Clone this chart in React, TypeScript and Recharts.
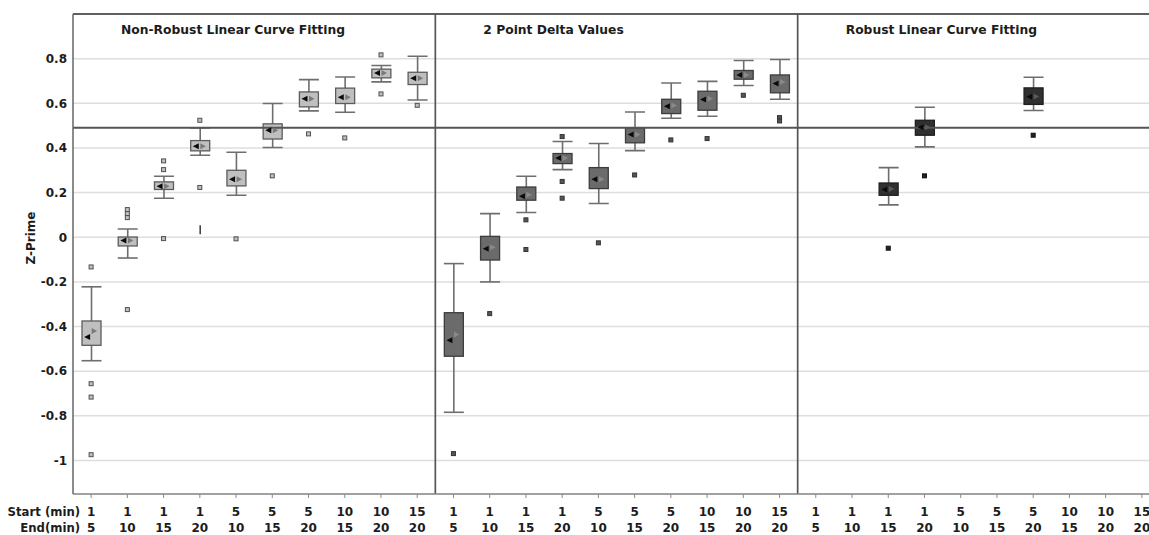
import React from 'react';
import {
  ComposedChart,
  Bar,
  Scatter,
  XAxis,
  YAxis,
  CartesianGrid,
  ReferenceLine,
  ReferenceArea,
} from 'recharts';

// ---------- data ----------
const startTimes = [1, 1, 1, 1, 5, 5, 5, 10, 10, 15];
const endTimes = [5, 10, 15, 20, 10, 15, 20, 15, 20, 20];
const panelTitles = ['Non-Robust Linear Curve Fitting', '2 Point Delta Values', 'Robust Linear Curve Fitting'];
const yTicks = [-1, -0.8, -0.6, -0.4, -0.2, 0, 0.2, 0.4, 0.6, 0.8];
const threshold = 0.49;

// Non-robust linear curve fitting
const nonRobustLow = [-0.553, -0.093, 0.175, 0.367, 0.188, 0.402, 0.566, 0.56, 0.696, 0.615];
const nonRobustQ1 = [-0.484, -0.039, 0.214, 0.387, 0.23, 0.44, 0.584, 0.599, 0.714, 0.684];
const nonRobustQ3 = [-0.375, 0.001, 0.248, 0.433, 0.3, 0.508, 0.651, 0.668, 0.753, 0.739];
const nonRobustHigh = [-0.222, 0.037, 0.273, 0.49, 0.381, 0.599, 0.706, 0.718, 0.769, 0.811];
const nonRobustMean = [-0.447, -0.015, 0.228, 0.408, 0.26, 0.479, 0.62, 0.627, 0.736, 0.712];
const nonRobustMedian = [-0.42, -0.015, 0.228, 0.408, 0.26, 0.479, 0.62, 0.627, 0.736, 0.712];
const nonRobustOutliers = [
  [-0.133, -0.656, -0.716, -0.974],
  [0.124, 0.106, 0.088, -0.324],
  [0.342, 0.303, -0.006],
  [0.524, 0.223],
  [-0.007],
  [0.275],
  [0.463],
  [0.445],
  [0.817, 0.642],
  [0.591],
];
// dense cluster of outliers drawn as a short vertical stroke
const nonRobustClusterLow = [null, null, null, 0.013, null, null, null, null, null, null];
const nonRobustClusterHigh = [null, null, null, 0.054, null, null, null, null, null, null];

// 2 point delta values
const deltaLow = [-0.784, -0.2, 0.111, 0.303, 0.151, 0.388, 0.533, 0.542, 0.68, 0.618];
const deltaQ1 = [-0.533, -0.102, 0.166, 0.33, 0.218, 0.423, 0.554, 0.569, 0.708, 0.647];
const deltaQ3 = [-0.338, 0.004, 0.225, 0.375, 0.312, 0.49, 0.618, 0.654, 0.747, 0.727];
const deltaHigh = [-0.118, 0.106, 0.273, 0.429, 0.42, 0.561, 0.691, 0.698, 0.792, 0.796];
const deltaMean = [-0.461, -0.051, 0.184, 0.355, 0.26, 0.46, 0.587, 0.617, 0.727, 0.689];
const deltaMedian = [-0.436, -0.045, 0.19, 0.355, 0.26, 0.46, 0.59, 0.62, 0.727, 0.695];
const deltaOutliers = [
  [-0.969],
  [-0.342],
  [0.078, -0.055],
  [0.451, 0.25, 0.175],
  [-0.025],
  [0.279],
  [0.436],
  [0.442],
  [0.636],
  [0.536, 0.521],
];

// Robust linear curve fitting
const robustLow = [null, null, 0.145, 0.405, null, null, 0.568, null, null, null];
const robustQ1 = [null, null, 0.188, 0.457, null, null, 0.595, null, null, null];
const robustQ3 = [null, null, 0.243, 0.524, null, null, 0.669, null, null, null];
const robustHigh = [null, null, 0.312, 0.582, null, null, 0.717, null, null, null];
const robustMean = [null, null, 0.214, 0.493, null, null, 0.629, null, null, null];
const robustMedian = [null, null, 0.216, 0.493, null, null, 0.63, null, null, null];
const robustOutliers = [[], [], [-0.049], [0.275], [], [], [0.457], [], [], []];

type N = number | null;
interface PanelData {
  low: N[];
  q1: N[];
  q3: N[];
  high: N[];
  mean: N[];
  median: N[];
  outliers: number[][];
  clusterLow?: N[];
  clusterHigh?: N[];
}

const panels: PanelData[] = [
  {
    low: nonRobustLow, q1: nonRobustQ1, q3: nonRobustQ3, high: nonRobustHigh,
    mean: nonRobustMean, median: nonRobustMedian, outliers: nonRobustOutliers,
    clusterLow: nonRobustClusterLow, clusterHigh: nonRobustClusterHigh,
  },
  { low: deltaLow, q1: deltaQ1, q3: deltaQ3, high: deltaHigh, mean: deltaMean, median: deltaMedian, outliers: deltaOutliers },
  { low: robustLow, q1: robustQ1, q3: robustQ3, high: robustHigh, mean: robustMean, median: robustMedian, outliers: robustOutliers },
];

// ---------- styles ----------
const FONT = '"DejaVu Sans", sans-serif';
const TEXT = '#1c1c1c';
const panelStyle = [
  { boxFill: '#bfbfbf', boxStroke: '#5c5c5c', whisker: '#6e6e6e', outFill: '#c0c0c0', outStroke: '#505050', median: '#7a7a7a' },
  { boxFill: '#6b6b6b', boxStroke: '#3c3c3c', whisker: '#6e6e6e', outFill: '#555555', outStroke: '#333333', median: '#8a8a8a' },
  { boxFill: '#303030', boxStroke: '#1e1e1e', whisker: '#6e6e6e', outFill: '#222222', outStroke: '#111111', median: '#5a5a5a' },
];

// ---------- derived tables ----------
const rows: any[] = [];
const meanPts: any[] = [];
const medianPts: any[] = [];
const outlierPts: any[] = [];
panels.forEach((p, pi) => {
  startTimes.forEach((s, i) => {
    const pos = pi * 10 + i + 0.5;
    const lo = p.low[i];
    const hi = p.high[i];
    const q1 = p.q1[i];
    const q3 = p.q3[i];
    const cl = p.clusterLow ? p.clusterLow[i] : null;
    const ch = p.clusterHigh ? p.clusterHigh[i] : null;
    rows.push({
      key: `${pi}-${i}`,
      panel: pi,
      idx: i,
      whisker: lo != null && hi != null ? [lo, hi] : null,
      box: q1 != null && q3 != null ? [q1, q3] : null,
      cluster: cl != null && ch != null ? [cl, ch] : null,
    });
    if (p.mean[i] != null) meanPts.push({ x: pos, v: p.mean[i], panel: pi });
    if (p.median[i] != null) medianPts.push({ x: pos, v: p.median[i], panel: pi });
    p.outliers[i].forEach((v) => outlierPts.push({ x: pos, v, panel: pi }));
  });
});

// ---------- shapes ----------
const norm = (y: number, h: number) => [Math.min(y, y + h), Math.max(y, y + h)];

const WhiskerShape = (props: any) => {
  const { x, y, width, height, payload } = props;
  if (!payload || !payload.whisker || !isFinite(y) || !isFinite(height)) return <g />;
  const [top, bot] = norm(y, height);
  const cx = x + width / 2;
  const c = panelStyle[payload.panel];
  return (
    <g stroke={c.whisker} strokeWidth={1.6} fill="none">
      <line x1={cx} x2={cx} y1={top} y2={bot} />
      <line x1={x - 0.5} x2={x + width + 0.5} y1={top} y2={top} />
      <line x1={x - 0.5} x2={x + width + 0.5} y1={bot} y2={bot} />
    </g>
  );
};

const BoxShape = (props: any) => {
  const { x, y, width, height, payload } = props;
  if (!payload || !payload.box || !isFinite(y) || !isFinite(height)) return <g />;
  const [top, bot] = norm(y, height);
  const c = panelStyle[payload.panel];
  return <rect x={x} y={top} width={width} height={Math.max(bot - top, 1)} fill={c.boxFill} stroke={c.boxStroke} strokeWidth={1.3} />;
};

const ClusterShape = (props: any) => {
  const { x, y, width, height, payload } = props;
  if (!payload || !payload.cluster || !isFinite(y) || !isFinite(height)) return <g />;
  const [top, bot] = norm(y, height);
  const cx = x + width / 2;
  return <line x1={cx} x2={cx} y1={top} y2={bot} stroke="#444" strokeWidth={1.6} />;
};

const MeanShape = (props: any) => {
  const { cx, cy } = props;
  if (!isFinite(cx) || !isFinite(cy)) return <g />;
  return <polygon points={`${cx - 7},${cy} ${cx - 1},${cy - 3} ${cx - 1},${cy + 3}`} fill="#0a0a0a" />;
};

const MedianShape = (props: any) => {
  const { cx, cy, payload } = props;
  if (!isFinite(cx) || !isFinite(cy)) return <g />;
  const c = panelStyle[payload.panel];
  return <polygon points={`${cx + 6},${cy} ${cx + 0.5},${cy - 3} ${cx + 0.5},${cy + 3}`} fill={c.median} />;
};

const OutlierShape = (props: any) => {
  const { cx, cy, payload } = props;
  if (!isFinite(cx) || !isFinite(cy)) return <g />;
  const c = panelStyle[payload.panel];
  return <rect x={cx - 2} y={cy - 2} width={4} height={4} fill={c.outFill} stroke={c.outStroke} strokeWidth={1} />;
};

// ---------- text ----------
const XTick = (props: any) => {
  const { x, y, payload } = props;
  const key: string = String(payload.value);
  const i = Number(key.split('-')[1]);
  const first = key === '0-0';
  const style = { fontFamily: FONT, fontWeight: 700, fontSize: 12, fill: TEXT } as any;
  const side = { ...style, fontSize: 11.7 };
  return (
    <g>
      {first && (
        <>
          <text x={x - 11} y={y + 16} textAnchor="end" style={side}>Start (min)</text>
          <text x={x - 11} y={y + 32} textAnchor="end" style={side}>End(min)</text>
        </>
      )}
      <text x={x} y={y + 16} textAnchor="middle" style={style}>{startTimes[i]}</text>
      <text x={x} y={y + 32} textAnchor="middle" style={style}>{endTimes[i]}</text>
    </g>
  );
};

const PanelTitle = (props: any) => {
  const vb = props.viewBox || {};
  return (
    <text x={vb.x + 48} y={vb.y + 19.5} textAnchor="start" style={{ fontFamily: FONT, fontWeight: 700, fontSize: 12.3, fill: TEXT }}>
      {props.text}
    </text>
  );
};

const YTitle = (props: any) => {
  const vb = props.viewBox || {};
  const cx = vb.x + 27;
  const cy = vb.y + vb.height / 2 - 16;
  return (
    <text x={cx} y={cy} transform={`rotate(-90, ${cx}, ${cy})`} textAnchor="middle" style={{ fontFamily: FONT, fontWeight: 700, fontSize: 12, fill: TEXT }}>
      Z-Prime
    </text>
  );
};

export default function App() {
  return (
    <div style={{ position: 'absolute', left: 0, top: 8, width: 1149, height: 527, overflow: 'hidden', background: '#fff', fontFamily: FONT }}>
      <ComposedChart width={1168} height={527} data={rows} margin={{ top: 6, right: 8, bottom: 0, left: 8 }} barGap={-19}>
        <CartesianGrid horizontal vertical={false} stroke="#dedede" strokeWidth={1.5} />
        <XAxis
          dataKey="key"
          type="category"
          interval={0}
          height={41}
          tickSize={4}
          tickLine={{ stroke: '#8a8a8a' }}
          axisLine={{ stroke: '#8a8a8a', strokeWidth: 1.5 }}
          tick={<XTick />}
        />
        <XAxis xAxisId="num" dataKey="x" type="number" domain={[0, 30]} allowDataOverflow hide />
        <YAxis
          type="number"
          domain={[-1.15, 1]}
          allowDataOverflow
          ticks={yTicks}
          width={65}
          tickLine={false}
          tickSize={4}
          tickMargin={2}
          axisLine={{ stroke: '#666', strokeWidth: 1.5 }}
          tick={{ fontFamily: FONT, fontWeight: 700, fontSize: 12, fill: TEXT }}
          tickFormatter={(v: number) => String(v)}
          label={<YTitle />}
        />
        <ReferenceLine y={1} stroke="#333" strokeWidth={1.3} />
        <ReferenceLine y={threshold} stroke="#555" strokeWidth={2} />
        <ReferenceLine xAxisId="num" x={10} stroke="#555" strokeWidth={1.7} />
        <ReferenceLine xAxisId="num" x={20} stroke="#555" strokeWidth={1.7} />
        <ReferenceLine xAxisId="num" x={30} stroke="#333" strokeWidth={1.5} />
        {panelTitles.map((t, pi) => (
          <ReferenceArea
            key={t}
            xAxisId="num"
            x1={pi * 10}
            x2={pi * 10 + 10}
            fill="none"
            fillOpacity={0}
            stroke="none"
            label={<PanelTitle text={t} />}
          />
        ))}
        <Bar dataKey="whisker" barSize={19} isAnimationActive={false} shape={<WhiskerShape />} />
        <Bar dataKey="box" barSize={19} isAnimationActive={false} shape={<BoxShape />} />
        <Bar dataKey="cluster" barSize={19} isAnimationActive={false} shape={<ClusterShape />} />
        <Scatter xAxisId="num" data={outlierPts} dataKey="v" isAnimationActive={false} shape={<OutlierShape />} />
        <Scatter xAxisId="num" data={medianPts} dataKey="v" isAnimationActive={false} shape={<MedianShape />} />
        <Scatter xAxisId="num" data={meanPts} dataKey="v" isAnimationActive={false} shape={<MeanShape />} />
      </ComposedChart>
    </div>
  );
}
